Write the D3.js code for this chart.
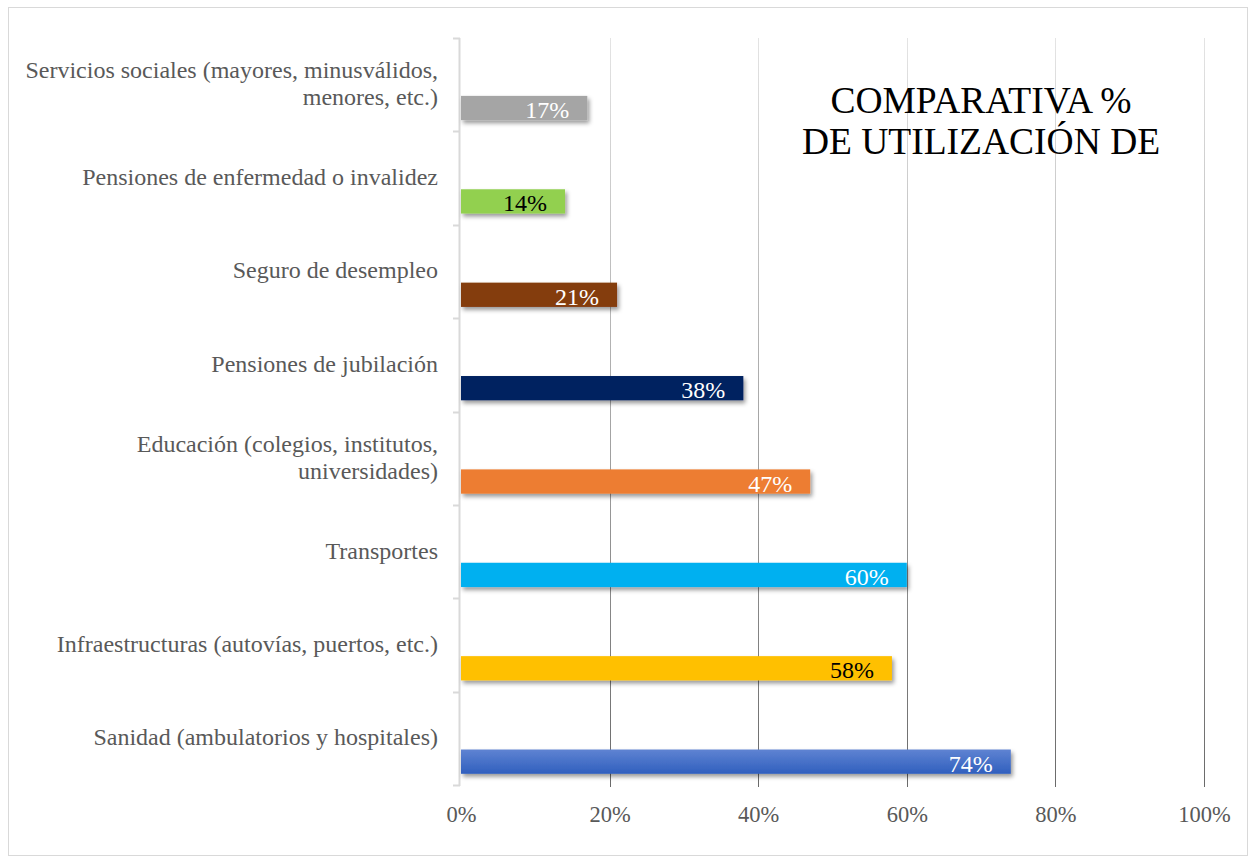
<!DOCTYPE html>
<html>
<head>
<meta charset="utf-8">
<script src="https://cdn.jsdelivr.net/npm/d3@7"></script>
<style>
body{margin:0;background:#fff}
text{font-family:"Liberation Serif","Times New Roman",serif}
</style>
</head>
<body>
<div id="chart"></div>
<script>
'use strict'
// categories top to bottom, "\n" marks a line break in the label
let categories=["Servicios sociales (mayores, minusválidos,\nmenores, etc.)","Pensiones de enfermedad o invalidez","Seguro de desempleo","Pensiones de jubilación","Educación (colegios, institutos,\nuniversidades)","Transportes","Infraestructuras (autovías, puertos, etc.)","Sanidad (ambulatorios y hospitales)"]
let values=[17,14,21,38,47,60,58,74]
let barColors=["#a5a5a5","#92d050","#843c0c","#002060","#ed7d31","#00b0f0","#ffc000","#4472c4"]
let valueColors=["#fff","#000","#fff","#fff","#fff","#fff","#000","#fff"]
let xTicks=[0,20,40,60,80,100]
let titleLines=["COMPARATIVA %","DE UTILIZACIÓN DE"]

let width=1252
let height=861
let plot={left:461,right:1204,top:38,bottom:785}

let svg=d3.select("#chart").append("svg").attr("width",width).attr("height",height)
let defs=svg.append("defs")
let shadow=defs.append("filter").attr("id","shadow").attr("x","-5%").attr("y","-30%").attr("width","115%").attr("height","190%")
shadow.append("feDropShadow").attr("dx",2).attr("dy",3).attr("stdDeviation",2).attr("flood-color","#000").attr("flood-opacity",0.4)
let gridGrad=defs.append("linearGradient").attr("id","gridGrad").attr("gradientUnits","userSpaceOnUse").attr("x1",0).attr("y1",plot.top).attr("x2",0).attr("y2",plot.bottom)
gridGrad.append("stop").attr("offset","0%").attr("stop-color","#e4e4e4")
gridGrad.append("stop").attr("offset","100%").attr("stop-color","#6a6a6a")
let blueGrad=defs.append("linearGradient").attr("id","blueGrad").attr("x1",0).attr("y1",0).attr("x2",0).attr("y2",1)
blueGrad.append("stop").attr("offset","0%").attr("stop-color","#5f83d2")
blueGrad.append("stop").attr("offset","100%").attr("stop-color","#305fbe")

svg.append("rect").attr("x",0).attr("y",0).attr("width",width).attr("height",height).attr("fill","#fff")
svg.append("rect").attr("x",8.5).attr("y",7.5).attr("width",1239).attr("height",848).attr("fill","none").attr("stroke","#d9d9d9").attr("stroke-width",1)

let xscale=d3.scaleLinear().domain([0,100]).range([plot.left,plot.right])
let yscale=d3.scaleBand().domain(categories).range([plot.top,plot.bottom])
let bw=yscale.bandwidth()

// gridlines
svg.append("g").selectAll("line").data(xTicks.slice(1)).enter().append("line")
.attr("x1",d=>Math.round(xscale(d))+0.5).attr("x2",d=>Math.round(xscale(d))+0.5)
.attr("y1",plot.top).attr("y2",plot.bottom+2)
.attr("stroke","url(#gridGrad)").attr("stroke-width",1)

// x axis labels
let x_axis=d3.axisBottom(xscale).tickValues(xTicks).tickSize(0).tickPadding(0).tickFormat(d=>d+"%")
let gx=svg.append("g").attr("transform","translate(0,"+(plot.bottom+37)+")").call(x_axis)
gx.select(".domain").remove()
gx.selectAll("text").attr("font-size","22.5px").attr("fill","#595959").attr("dy",0).style("font-family","Liberation Serif")

// y axis line with ticks at category boundaries
let bounds=categories.map(c=>yscale(c)).concat([plot.bottom])
let gy=svg.append("g")
gy.append("line").attr("x1",459.5).attr("x2",459.5).attr("y1",plot.top).attr("y2",plot.bottom+1).attr("stroke","#d9d9d9").attr("stroke-width",2)
gy.selectAll(".tk").data(bounds).enter().append("line").attr("class","tk")
.attr("x1",453).attr("x2",460).attr("y1",d=>Math.round(d)+0.5).attr("y2",d=>Math.round(d)+0.5)
.attr("stroke","#d9d9d9").attr("stroke-width",2)

// category labels
let labels=svg.append("g").selectAll("text").data(categories).enter().append("text")
.attr("text-anchor","end").attr("font-size","24px").attr("fill","#595959")
.attr("transform",d=>"translate(438,"+(yscale(d)+bw/2)+")")
labels.each(function(d){let lines=d.split("\n")
let t=d3.select(this)
lines.forEach(function(l,i){t.append("tspan").attr("x",0).attr("y",(i-(lines.length-1)/2)*27+7).text(l)})})

// bars
let bars=svg.append("g").selectAll("rect").data(values).enter().append("rect")
.attr("x",plot.left).attr("y",(d,i)=>yscale(categories[i])+bw*0.62)
.attr("width",d=>xscale(d)-plot.left).attr("height",bw*0.26)
.attr("fill",(d,i)=>i==7?"url(#blueGrad)":barColors[i])
.attr("filter","url(#shadow)")

// value labels
svg.append("g").selectAll("text").data(values).enter().append("text")
.attr("x",d=>xscale(d)-18).attr("y",(d,i)=>yscale(categories[i])+bw*0.75+10)
.attr("text-anchor","end").attr("font-size","24px").attr("fill",(d,i)=>valueColors[i])
.text(d=>d+"%")

// title
svg.append("g").selectAll("text").data(titleLines).enter().append("text")
.attr("x",981).attr("y",(d,i)=>113+i*41).attr("text-anchor","middle")
.attr("font-size","37.5px").attr("fill","#000").text(d=>d)
</script>
</body>
</html>
